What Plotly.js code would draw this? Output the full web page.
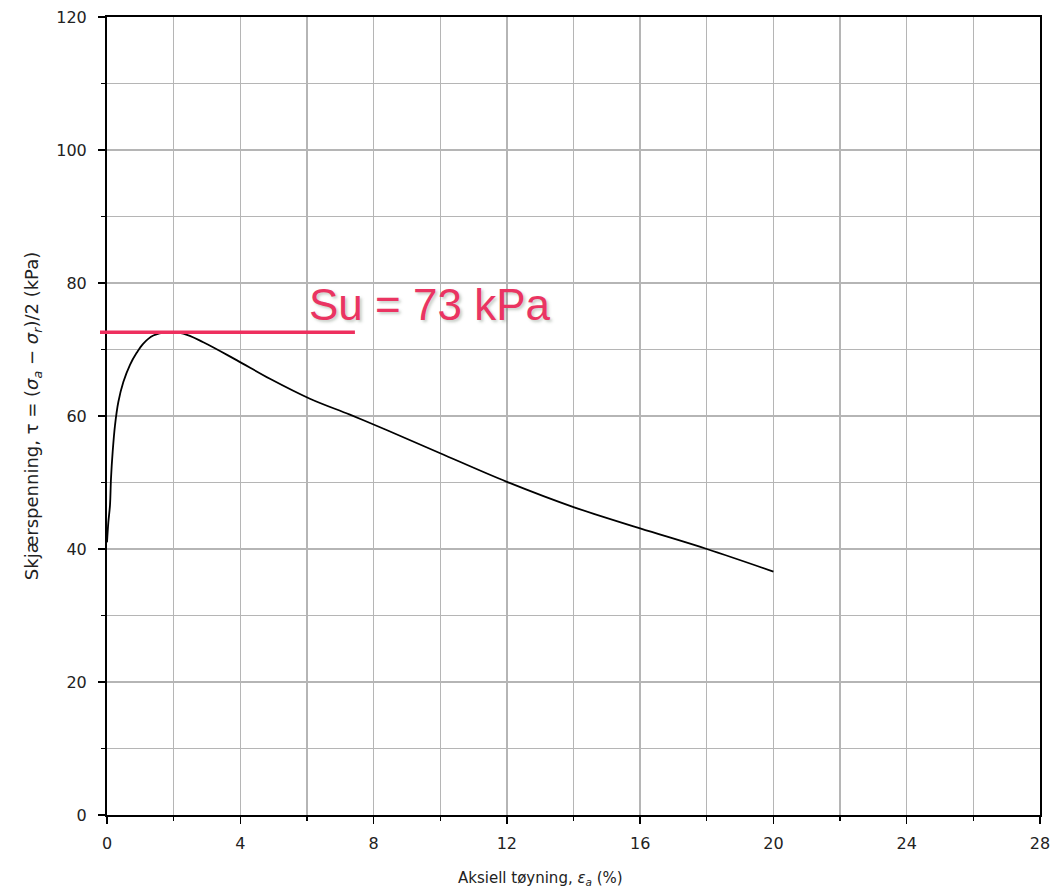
<!DOCTYPE html>
<html>
<head>
<meta charset="utf-8">
<script src="https://cdn.plot.ly/plotly-3.0.1.min.js"></script>
<style>html,body{margin:0;padding:0;background:#fff;}#chart{width:1055px;height:891px;}</style>
</head>
<body>
<div id="chart"></div>
<script>
// Axial strain (%) and shear stress (kPa)
const strain = [0, 0.04, 0.09, 0.12, 0.17, 0.24, 0.34, 0.49, 0.69, 0.89, 1.09, 1.39, 1.8, 2.29, 2.89, 3.89, 4.89, 6.09, 7.29, 8.39, 10.0, 12.0, 14.0, 16.0, 18.0, 20.0];
const tau    = [41, 44, 46.6, 50.6, 54.6, 58.6, 62.1, 65.1, 67.7, 69.5, 70.9, 72.1, 72.6, 72.4, 71.1, 68.4, 65.6, 62.6, 60.2, 57.9, 54.4, 50.1, 46.3, 43.1, 40.0, 36.6];

// Undrained shear strength marker
const suValue = 72.6;
const suLineX = [-0.21, 7.44];
const suLabel = "Su = 73 kPa";
const suLabelPos = [9.69, 76.7];

const xTickVals = [0, 4, 8, 12, 16, 20, 24, 28];
const yTickVals = [0, 20, 40, 60, 80, 100, 120];

const xTitle = "Aksiell tøyning, <i>ε<sub>a</sub></i> (%)";
const yTitle = "Skjærspenning, τ = (<i>σ<sub>a</sub></i> − <i>σ<sub>r</sub></i>)/2 (kPa)";

const font = "DejaVu Sans, sans-serif";
const gridColor = "#b5b5b5";
const xMax = 28;

const traces = [{
  x: strain, y: tau, type: "scatter", mode: "lines",
  line: {color: "#000", width: 1.8, shape: "spline", smoothing: 1.0},
  hoverinfo: "x+y", showlegend: false
}];

const layout = {
  width: 1055, height: 891,
  margin: {l: 107, r: 15, t: 17, b: 76},
  paper_bgcolor: "#fff", plot_bgcolor: "#fff",
  font: {family: font, size: 15, color: "#222"},
  showlegend: false,
  xaxis: {
    range: [0, xMax], tickvals: xTickVals, ticktext: xTickVals.map(String),
    showgrid: true, gridcolor: gridColor, gridwidth: 1.4,
    ticks: "outside", ticklen: 7, tickwidth: 1.4, tickcolor: "#000",
    showline: true, linecolor: "#000", linewidth: 2, mirror: true,
    zeroline: false, ticklabelstandoff: 6,
    tickfont: {family: font, size: 16, color: "#222"},
    minor: {dtick: 2, tick0: 0, showgrid: true, gridcolor: gridColor, gridwidth: 1.4,
            ticks: "outside", ticklen: 4, tickwidth: 1.4, tickcolor: "#000"}
  },
  yaxis: {
    range: [0, 120], tickvals: yTickVals, ticktext: yTickVals.map(String),
    showgrid: true, gridcolor: gridColor, gridwidth: 1.4,
    ticks: "outside", ticklen: 7, tickwidth: 1.4, tickcolor: "#000",
    showline: true, linecolor: "#000", linewidth: 2, mirror: true,
    zeroline: false, ticklabelstandoff: 8,
    tickfont: {family: font, size: 16, color: "#222"},
    title: {text: yTitle, font: {family: font, size: 18, color: "#222"}, standoff: 13},
    minor: {dtick: 10, tick0: 0, showgrid: true, gridcolor: gridColor, gridwidth: 1.4,
            ticks: "outside", ticklen: 4, tickwidth: 1.4, tickcolor: "#000"}
  },
  shapes: [{
    type: "line", xref: "paper", yref: "y",
    x0: suLineX[0] / xMax, x1: suLineX[1] / xMax, y0: suValue, y1: suValue,
    line: {color: "#ee2f5e", width: 3.5}
  }],
  annotations: [{
    xref: "x", yref: "y", x: suLabelPos[0], y: suLabelPos[1],
    text: suLabel, showarrow: false, xanchor: "center", yanchor: "middle",
    font: {family: "Liberation Sans, Arial, sans-serif", size: 44, color: "#ea3462",
           shadow: "2px 2px 3px rgba(90,110,90,0.35)"}
  }, {
    xref: "paper", yref: "paper", x: (540 - 107) / 933, y: -0.079,
    text: xTitle, showarrow: false, xanchor: "center", yanchor: "middle",
    font: {family: font, size: 15, color: "#222"}
  }]
};

Plotly.newPlot("chart", traces, layout, {displayModeBar: false, staticPlot: true});
</script>
</body>
</html>
